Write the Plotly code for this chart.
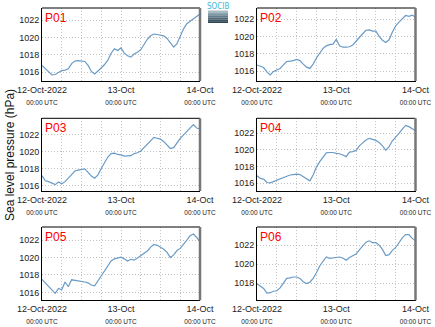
import plotly.graph_objects as go
import pandas as pd

times = pd.date_range("2022-10-12 00:00", "2022-10-14 00:00", freq="1h")

p01 = [1016.8, 1016.4, 1016.0, 1015.7, 1015.75, 1016.0, 1016.2, 1016.25, 1016.4, 1017.0,
       1017.3, 1017.35, 1017.3, 1017.25, 1016.8, 1016.1, 1015.8, 1016.1, 1016.5, 1016.9,
       1017.4, 1018.2, 1018.7, 1018.5, 1018.8, 1018.2, 1017.9, 1017.75, 1018.1, 1018.3,
       1018.6, 1019.2, 1019.8, 1020.2, 1020.4, 1020.35, 1020.3, 1020.2, 1019.9, 1019.4,
       1018.9, 1019.3, 1020.2, 1021.0, 1021.6, 1021.9, 1022.2, 1022.5, 1022.7]
p02 = [1016.7, 1016.55, 1016.4, 1015.9, 1015.55, 1015.95, 1016.15, 1016.3, 1016.7, 1017.1,
       1017.15, 1017.2, 1017.35, 1017.2, 1016.8, 1016.45, 1016.3, 1016.8, 1017.5, 1018.0,
       1018.6, 1018.9, 1019.05, 1019.1, 1019.65, 1018.9, 1018.75, 1018.75, 1018.8, 1019.0,
       1019.45, 1019.95, 1020.3, 1020.7, 1020.75, 1020.6, 1020.6, 1020.0, 1019.55, 1019.3,
       1019.6, 1020.5, 1021.2, 1021.65, 1022.05, 1022.4, 1022.3, 1022.45, 1022.2]
p03 = [1017.2, 1016.6, 1016.5, 1016.35, 1016.15, 1016.45, 1016.25, 1016.5, 1016.9, 1017.35,
       1017.75, 1017.85, 1017.95, 1018.0, 1017.6, 1017.15, 1016.9, 1017.3, 1018.05, 1018.8,
       1019.4, 1019.8, 1019.85, 1019.7, 1019.65, 1019.5, 1019.55, 1019.55, 1019.8, 1019.9,
       1020.1, 1020.5, 1020.9, 1021.4, 1021.7, 1021.6, 1021.5, 1021.2, 1020.85, 1020.4,
       1020.5, 1021.1, 1021.6, 1022.0, 1022.4, 1022.9, 1023.2, 1022.8, 1022.7]
p04 = [1016.9, 1016.6, 1016.5, 1016.1, 1016.05, 1016.2, 1016.4, 1016.55, 1016.7, 1016.8,
       1017.0, 1017.05, 1017.1, 1017.05, 1016.8, 1016.5, 1016.3, 1017.0, 1017.95, 1018.6,
       1019.2, 1019.65, 1019.7, 1019.7, 1019.6, 1019.55, 1019.4, 1019.2, 1019.75, 1019.8,
       1019.95, 1020.5, 1020.85, 1021.2, 1021.4, 1021.3, 1021.15, 1020.9, 1020.5, 1019.95,
       1020.4, 1021.1, 1021.5, 1022.0, 1022.5, 1022.95, 1022.8, 1022.5, 1022.3]
p05 = [1017.5, 1017.1, 1016.7, 1016.3, 1015.9, 1016.45, 1016.3, 1017.2, 1016.65, 1017.45,
       1017.4, 1017.35, 1017.25, 1017.2, 1017.1, 1016.85, 1016.75, 1017.3, 1018.0, 1018.5,
       1019.0, 1019.6, 1019.85, 1019.95, 1020.05, 1019.85, 1019.6, 1019.8, 1019.7, 1019.95,
       1020.2, 1020.4, 1020.75, 1021.2, 1021.5, 1021.4, 1021.2, 1020.95, 1020.6, 1020.0,
       1020.3, 1020.8, 1021.05, 1021.6, 1022.0, 1022.5, 1022.7, 1022.3, 1021.8]
p06 = [1017.95, 1017.7, 1017.45, 1016.95, 1017.0, 1017.15, 1017.2, 1017.5, 1018.0, 1018.5,
       1018.55, 1018.65, 1018.65, 1018.5, 1018.15, 1017.95, 1018.1, 1018.5, 1019.1, 1019.8,
       1020.3, 1020.75, 1020.6, 1020.65, 1020.7, 1020.75, 1020.65, 1020.4, 1020.7, 1020.9,
       1021.05, 1021.5, 1021.9, 1022.3, 1022.45, 1022.25, 1022.25, 1022.0, 1021.55, 1020.9,
       1021.0, 1021.45, 1021.75, 1022.3, 1022.75, 1023.1, 1023.1, 1022.7, 1022.45]

names = ["P01", "P02", "P03", "P04", "P05", "P06"]
series = [p01, p02, p03, p04, p05, p06]
y_ranges = [[1015.0, 1023.4], [1014.85, 1023.27], [1015.4, 1023.95],
            [1015.08, 1023.8], [1015.1, 1023.5], [1016.2, 1023.9]]
x_tickvals = ["2022-10-12 00:00", "2022-10-13 00:00", "2022-10-14 00:00"]
x_ticktext = ["12-Oct-2022", "13-Oct", "14-Oct"]
sub_label = "00:00 UTC"

W, H = 435, 327
col_x = [(42, 200), (257, 415.5)]
row_y = [(8, 81), (118.3, 191), (227, 300.3)]

fig = go.Figure()
line_color = "#6a9bc6"
grid_color = "#c2c2c2"
grid_dash = "1px,2px"
for i, (nm, ys) in enumerate(zip(names, series)):
    r, c = divmod(i, 2)
    n = i + 1
    xa = "x" if n == 1 else f"x{n}"
    ya = "y" if n == 1 else f"y{n}"
    fig.add_trace(go.Scatter(x=times, y=ys, mode="lines", xaxis=xa, yaxis=ya,
                             line=dict(color=line_color, width=1.2), showlegend=False,
                             hoverinfo="skip"))
    x0, x1 = col_x[c]
    y0, y1 = row_y[r]
    ticktext = [f"{t}<br><span style='font-size:6.5px'>{sub_label}</span>" for t in x_ticktext]
    xkey = "xaxis" if n == 1 else f"xaxis{n}"
    ykey = "yaxis" if n == 1 else f"yaxis{n}"
    fig.layout[xkey] = dict(
        domain=[x0 / W, x1 / W], anchor=ya, type="date", automargin=False,
        range=[x_tickvals[0], x_tickvals[-1]],
        tickmode="array", tickvals=x_tickvals, ticktext=ticktext,
        showgrid=True, gridcolor=grid_color, griddash=grid_dash, gridwidth=1,
        minor=dict(dtick=6 * 3600 * 1000, showgrid=True, gridcolor=grid_color,
                   griddash=grid_dash, gridwidth=1),
        showline=True, linecolor="black", linewidth=1, zeroline=False,
        ticks="", tickfont=dict(family="Liberation Sans, Arial", size=9, color="#222"),
        tickangle=0,
    )
    fig.layout[ykey] = dict(
        domain=[1 - y1 / H, 1 - y0 / H], anchor=xa, range=y_ranges[i], automargin=False,
        dtick=2, tick0=1016,
        showgrid=True, gridcolor=grid_color, griddash=grid_dash, gridwidth=1,
        showline=True, linecolor="black", linewidth=1, zeroline=False,
        ticks="", tickfont=dict(family="Liberation Sans, Arial", size=9, color="#222"),
    )
    xd = f"{xa} domain"
    yd = f"{ya} domain"
    fig.add_shape(type="line", xref=xd, yref=yd, x0=0, x1=1, y0=1, y1=1,
                  line=dict(color="black", width=1))
    fig.add_shape(type="line", xref=xd, yref=yd, x0=1, x1=1, y0=0, y1=1,
                  line=dict(color="#777777", width=2.5))
    fig.add_annotation(xref=xd, yref=yd, x=0.005, y=0.99, xanchor="left", yanchor="top",
                       text=nm, showarrow=False,
                       font=dict(family="Liberation Sans, Arial", size=12, color="#ff0000"))

# y-axis title
fig.add_annotation(xref="paper", yref="paper", x=10 / W, y=1 - 155 / H, textangle=-90,
                   text="Sea level pressure (hPa)", showarrow=False,
                   xanchor="center", yanchor="middle",
                   font=dict(family="Liberation Sans, Arial", size=12, color="#111"))

# logo
logo_cols = ["#a7bcc6", "#8ea6b2", "#77909d", "#627b89", "#4f6775", "#3d5462", "#2f4452"]
lx0, lx1 = 208, 228
ly0, ly1 = 10.5, 23
band = (ly1 - ly0) / len(logo_cols)
for k, col in enumerate(logo_cols):
    fig.add_shape(type="rect", xref="paper", yref="paper",
                  x0=lx0 / W, x1=lx1 / W,
                  y0=1 - (ly0 + (k + 1) * band) / H, y1=1 - (ly0 + k * band) / H,
                  line=dict(width=0), fillcolor=col)
fig.add_annotation(xref="paper", yref="paper", x=218 / W, y=1 - 0.5 / H,
                   xanchor="center", yanchor="top", text="SOCIB", showarrow=False,
                   font=dict(family="DejaVu Sans Condensed, DejaVu Sans", size=8, color="#3fb6d2"))

fig.update_layout(width=W, height=H, margin=dict(l=0, r=0, t=0, b=0),
                  paper_bgcolor="white", plot_bgcolor="white")
fig.write_html("out.html")
